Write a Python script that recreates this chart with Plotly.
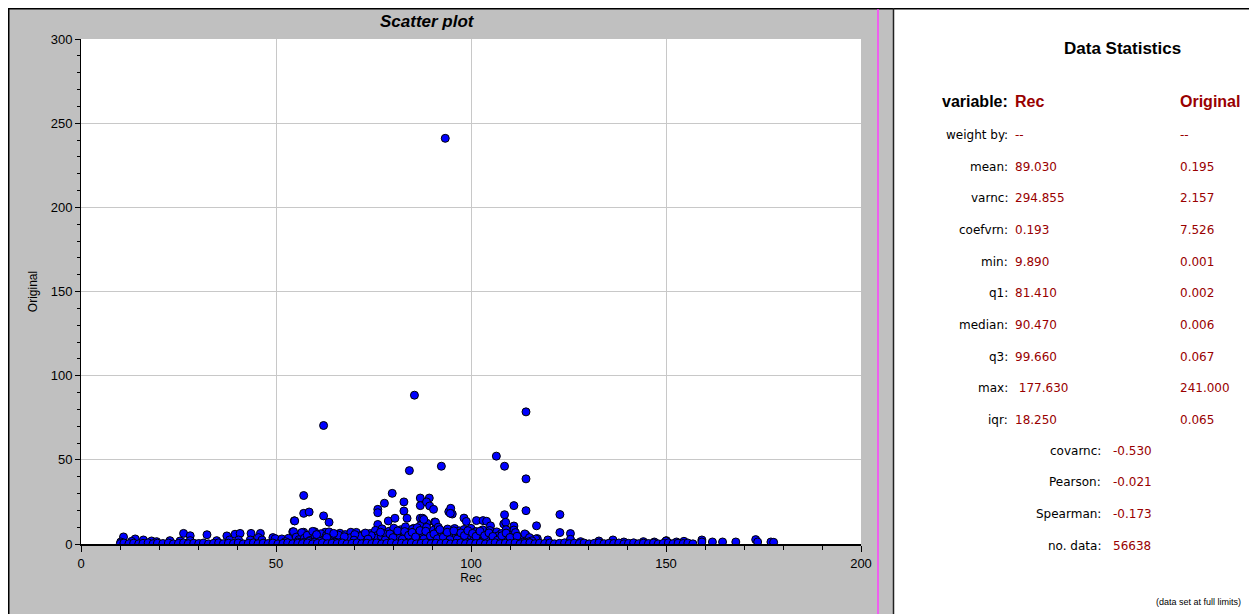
import plotly.graph_objects as go

# ---------------- data ----------------
# outlying / clearly visible points (Rec, Original)
outlier_points = [
    [93.4, 241.0], [85.5, 88.4], [62.2, 70.4], [114.1, 78.5], [106.5, 52.2],
    [108.6, 46.2], [92.4, 46.2], [84.2, 43.6], [114.1, 38.7], [57.1, 28.8],
    [111.0, 22.8], [122.8, 17.5], [114.1, 19.8], [108.6, 17.4], [116.8, 10.8],
    [122.8, 6.8], [125.5, 6.2], [114.1, 5.3], [117.0, 3.2], [119.7, 2.4],
    [57.1, 18.2], [58.5, 19.0], [54.7, 13.8], [62.2, 16.7], [63.6, 12.9],
    [76.1, 20.6], [76.1, 18.6], [77.8, 24.2], [79.8, 30.1], [82.8, 25.0],
    [82.8, 19.6], [83.6, 15.3], [78.8, 13.7], [80.5, 15.3], [76.1, 11.6],
    [87.0, 27.3], [89.3, 27.3], [87.0, 22.8], [88.6, 25.0], [89.4, 22.6],
    [90.4, 20.6], [87.0, 15.3], [87.6, 15.3], [88.7, 12.3], [90.7, 13.1],
    [91.1, 9.9], [94.3, 19.2], [94.8, 21.2], [95.2, 17.8], [98.2, 15.4],
    [98.8, 13.4], [101.4, 13.9], [103.1, 13.9], [104.0, 13.5], [105.0, 10.8],
    [108.4, 11.9], [108.9, 12.9], [111.0, 10.7], [111.0, 8.3], [111.0, 4.8],
    [114.1, 4.5], [103.3, 5.8], [105.9, 5.8], [106.7, 5.8], [101.2, 7.3],
    [90.9, 12.9], [85.3, 9.3], [87.0, 10.9], [87.9, 14.6], [94.7, 18.2],
    [54.3, 7.3], [57.1, 7.0], [59.9, 7.3], [62.6, 7.0], [116.6, 3.0],
    [125.5, 2.8], [128.1, 1.4], [132.8, 1.8], [136.4, 2.4], [139.2, 1.2],
    [144.2, 1.4], [147.0, 1.2], [150.1, 2.0], [152.7, 1.2], [154.6, 1.6],
    [159.2, 2.4], [159.2, 1.2], [161.9, 1.2], [164.5, 1.2], [167.9, 1.2],
    [173.0, 2.6], [173.5, 1.2], [176.9, 1.2], [177.6, 1.0], [150.0, 1.8],
]

# low points on the left side of the cloud
left_points = [
    [10.9, 4.2], [10.2, 1.2], [13.9, 3.0], [13.0, 1.6], [16.0, 2.4],
    [18.1, 1.8], [19.4, 1.4], [22.8, 2.0], [25.4, 1.8], [26.3, 6.3],
    [28.0, 4.9], [28.0, 2.0], [32.3, 5.5], [34.8, 2.0], [37.4, 4.8],
    [38.1, 2.4], [39.5, 5.8], [40.8, 6.3], [40.4, 2.4], [43.6, 6.3],
    [43.4, 2.4], [46.0, 6.3], [45.5, 3.8], [46.4, 2.4], [49.2, 3.8],
    [49.8, 3.2], [51.5, 3.0], [53.2, 3.4], [54.8, 13.7], [52.4, 1.4],
]

# dense band of small values in the middle of the cloud
band_points = [
    [54.5, 7.3], [55.2, 4.1], [55.9, 2.6], [56.6, 6.8], [57.3, 3.5], [58.0, 5.2],
    [58.7, 2.1], [59.4, 7.5], [60.1, 4.4], [60.8, 3.0], [61.5, 6.1], [62.2, 2.4],
    [62.9, 5.0], [63.6, 7.2], [64.3, 3.3], [65.0, 4.8], [65.7, 2.2], [66.4, 6.4],
    [67.1, 3.9], [67.8, 5.6], [68.5, 2.7], [69.2, 7.0], [69.9, 4.3], [70.6, 6.9],
    [71.3, 3.1], [72.0, 5.4], [72.7, 2.5], [73.4, 4.6], [74.1, 6.2], [74.8, 3.4],
    [75.5, 8.1], [76.0, 5.1], [76.6, 2.9], [77.2, 9.0], [77.8, 6.3], [78.4, 3.8],
    [79.0, 7.6], [79.6, 4.5], [80.2, 9.4], [80.8, 2.6], [81.4, 6.7], [82.0, 8.5],
    [82.6, 4.0], [83.2, 10.2], [83.8, 6.0], [84.4, 3.2], [85.0, 8.8], [85.6, 5.5],
    [86.2, 9.7], [86.8, 2.8], [87.4, 7.1], [88.0, 4.9], [88.6, 9.9], [89.2, 6.4],
    [89.8, 3.6], [90.4, 8.2], [91.0, 5.3], [91.6, 10.0], [92.2, 2.7], [92.8, 7.4],
    [93.4, 4.6], [94.0, 8.9], [94.6, 6.1], [95.2, 3.3], [95.8, 9.2], [96.4, 5.8],
    [97.0, 7.8], [97.6, 4.2], [98.2, 8.6], [98.8, 2.9], [99.4, 6.6], [100.0, 9.3],
    [100.6, 4.4], [101.2, 7.3], [101.8, 3.0], [102.4, 6.0], [103.0, 8.4], [103.6, 3.7],
    [104.2, 5.6], [104.8, 8.0], [105.4, 2.6], [106.0, 5.8], [106.6, 7.2], [107.2, 3.4],
    [107.8, 6.2], [108.4, 4.1], [109.0, 8.5], [109.6, 2.8], [110.2, 5.0], [110.8, 3.6],
    [111.4, 6.8], [112.0, 2.5], [112.6, 4.2], [113.2, 3.0], [113.8, 6.0], [114.4, 2.2],
    [115.0, 3.8], [115.6, 1.9],
    [55.5, 1.2], [57.0, 0.9], [58.4, 1.5], [59.8, 1.1], [61.2, 1.6], [62.6, 0.8],
    [64.0, 1.4], [65.4, 1.0], [66.8, 1.7], [68.2, 1.2], [69.6, 0.9], [71.0, 1.5],
    [72.4, 1.1], [73.8, 1.8], [75.2, 1.3], [76.3, 1.9], [77.5, 1.0], [78.7, 2.2],
    [79.9, 1.4], [81.1, 2.0], [82.3, 1.1], [83.5, 2.4], [84.7, 1.6], [85.9, 2.1],
    [87.1, 1.2], [88.3, 2.5], [89.5, 1.5], [90.7, 2.2], [91.9, 1.0], [93.1, 2.4],
    [94.3, 1.3], [95.5, 2.0], [96.7, 1.1], [97.9, 2.3], [99.1, 1.4], [100.3, 2.0],
    [101.5, 1.0], [102.7, 1.9], [103.9, 1.2], [105.1, 1.7], [106.3, 0.9], [107.5, 1.6],
    [108.7, 1.1], [109.9, 1.5], [111.1, 0.8], [112.3, 1.3], [113.5, 0.9], [114.7, 1.2],
    [75.9, 3.6], [77.0, 4.6], [78.1, 5.6], [79.3, 3.0], [80.5, 5.0], [81.7, 3.5],
    [82.9, 5.9], [84.1, 4.5], [85.3, 3.1], [86.5, 6.2], [87.7, 3.9], [88.9, 5.3],
    [90.1, 4.2], [91.3, 6.9], [92.5, 5.1], [93.7, 3.5], [94.9, 6.5], [96.1, 4.0],
    [97.3, 5.5], [98.5, 3.9], [99.7, 5.2], [100.9, 3.3], [102.1, 5.1], [103.3, 2.5],
    [104.5, 4.0], [105.7, 3.6], [106.9, 4.8], [108.1, 2.6], [109.3, 4.4], [110.5, 2.1],
    [60.4, 5.6], [63.0, 3.9], [66.0, 5.3], [68.9, 3.6], [71.7, 4.5], [74.4, 5.0],
    [76.8, 7.0], [78.0, 2.4], [79.2, 6.0], [80.0, 3.8], [81.2, 7.8], [82.4, 2.9],
    [83.0, 7.4], [84.0, 5.2], [84.9, 6.9], [85.8, 4.2], [86.9, 8.0], [87.9, 3.0],
    [88.4, 7.6], [89.6, 4.8], [90.5, 6.0], [91.4, 3.1], [92.0, 8.6], [92.9, 4.0],
    [93.9, 7.0], [94.6, 2.6], [95.6, 7.8], [96.5, 3.0], [97.4, 6.6], [98.3, 5.0],
    [99.2, 7.9], [100.4, 6.3], [101.3, 4.6], [102.3, 7.6], [103.5, 5.0], [104.6, 6.6],
    [105.6, 4.5], [106.8, 2.3], [107.9, 4.9], [109.0, 6.5], [110.0, 3.9], [111.8, 4.6],
    [64.8, 6.3], [67.5, 4.3], [70.2, 5.6], [72.9, 6.5], [73.6, 2.9], [70.0, 2.3],
]

# points lying on the baseline (Original close to 0)
baseline_x = [
    10.1, 11.0, 12.3, 13.5, 14.8, 15.9, 17.2, 18.5, 19.6, 21.0, 22.4, 23.7, 25.0,
    26.3, 27.5, 28.9, 30.2, 31.4, 32.7, 34.0, 35.3, 36.5, 37.8, 39.1, 40.3, 41.6,
    42.9, 44.2, 45.4, 46.7, 48.0, 49.2, 50.5, 51.8, 53.0, 54.3, 55.6, 56.8, 58.1,
    59.4, 60.6, 61.9, 63.2, 64.4, 65.7, 67.0, 68.2, 69.5, 70.8, 72.0, 73.3, 74.6,
    75.8, 77.1, 78.4, 79.6, 80.9, 82.2, 83.4, 84.7, 86.0, 87.2, 88.5, 89.8, 91.0,
    92.3, 93.6, 94.8, 96.1, 97.4, 98.6, 99.9, 101.2, 102.4, 103.7, 105.0, 106.2,
    107.5, 108.8, 110.0, 111.3, 112.6, 113.8, 115.1, 116.4, 117.6, 118.9, 120.2,
    121.4, 122.7, 124.0, 125.2, 126.5, 127.8, 129.0, 130.3, 131.6, 132.8, 134.1,
    135.4, 136.6, 137.9, 139.2, 140.4, 141.7, 143.0, 144.2, 145.5, 146.8, 148.0,
    149.3, 150.6, 151.8, 153.1, 154.4, 155.6, 156.9,
]
baseline_y = [
    0.3, 0.6, 0.2, 0.5, 0.1, 0.4, 0.7, 0.2, 0.5, 0.3, 0.6, 0.1, 0.4,
    0.7, 0.2, 0.5, 0.3, 0.6, 0.1, 0.4, 0.7, 0.2, 0.5, 0.3, 0.6, 0.1,
    0.4, 0.7, 0.2, 0.5, 0.3, 0.6, 0.1, 0.4, 0.7, 0.2, 0.5, 0.3, 0.6,
    0.1, 0.4, 0.7, 0.2, 0.5, 0.3, 0.6, 0.1, 0.4, 0.7, 0.2, 0.5, 0.3,
    0.6, 0.1, 0.4, 0.7, 0.2, 0.5, 0.3, 0.6, 0.1, 0.4, 0.7, 0.2, 0.5,
    0.3, 0.6, 0.1, 0.4, 0.7, 0.2, 0.5, 0.3, 0.6, 0.1, 0.4, 0.7,
    0.2, 0.5, 0.3, 0.6, 0.1, 0.4, 0.7, 0.2, 0.5, 0.3, 0.6,
    0.1, 0.4, 0.7, 0.2, 0.5, 0.3, 0.6, 0.1, 0.4, 0.7, 0.2,
    0.5, 0.3, 0.6, 0.1, 0.4, 0.7, 0.2, 0.5, 0.3, 0.6, 0.1,
    0.4, 0.7, 0.2, 0.5, 0.3, 0.6, 0.1,
]

# statistics panel
stat_labels = ["weight by:", "mean:", "varnc:", "coefvrn:", "min:", "q1:",
               "median:", "q3:", "max:", "iqr:"]
rec_stats = ["--", "89.030", "294.855", "0.193", "9.890", "81.410",
             "90.470", "99.660", " 177.630", "18.250"]
orig_stats = ["--", "0.195", "2.157", "7.526", "0.001", "0.002",
              "0.006", "0.067", "241.000", "0.065"]
pair_labels = ["covarnc:", "Pearson:", "Spearman:", "no. data:"]
pair_stats = ["-0.530", "-0.021", "-0.173", "56638"]

x_ticks = [0, 50, 100, 150, 200]
y_ticks = [0, 50, 100, 150, 200, 250, 300]

# ---------------- figure ----------------
xs = [p[0] for p in outlier_points + left_points + band_points] + baseline_x
ys = [p[1] for p in outlier_points + left_points + band_points] + baseline_y

# page offset: the figure sits at (8, 8) in the page (body margin)
OFF = 8
W, H = 1257 - OFF, 614 - OFF
L, R, T, B = 81 - OFF, 396, 39 - OFF, 70
PW, PH = W - L - R, H - T - B


def px(xp):
    """page pixel x -> paper coordinate"""
    return (xp - OFF - L) / PW


def py(yp):
    """page pixel y -> paper coordinate"""
    return (H - B - (yp - OFF)) / PH


fig = go.Figure()
fig.add_trace(go.Scatter(
    x=xs, y=ys, mode="markers",
    marker=dict(color="#0000ff", size=8, line=dict(color="black", width=1)),
    showlegend=False, hoverinfo="x+y",
))

GRAY = "#c0c0c0"
shapes = [
    # statistics panel (white)
    dict(type="rect", xref="paper", yref="paper", x0=px(894), x1=px(1257 + 5), y0=py(8), y1=py(614 + 5),
         fillcolor="white", line=dict(width=0), layer="below"),
    # borders
    dict(type="line", xref="paper", yref="paper", x0=px(8), x1=px(1257), y0=py(8.5), y1=py(8.5),
         line=dict(color="black", width=2)),
    dict(type="line", xref="paper", yref="paper", x0=px(8.5), x1=px(8.5), y0=py(8), y1=py(614),
         line=dict(color="black", width=2)),
    dict(type="line", xref="paper", yref="paper", x0=px(893.5), x1=px(893.5), y0=py(8), y1=py(614),
         line=dict(color="#202020", width=1.5)),
    dict(type="line", xref="paper", yref="paper", x0=px(878), x1=px(878), y0=py(9), y1=py(614),
         line=dict(color="#ff40ff", width=1.5)),
]

ann = []
ann.append(dict(text="<b><i>Scatter plot</i></b>", x=px(427), y=py(22), xref="paper", yref="paper",
                showarrow=False, xanchor="center", yanchor="middle",
                font=dict(family="Liberation Sans, Arial", size=17, color="black")))
ann.append(dict(text="<b>Data Statistics</b>", x=px(1122), y=py(48), xref="paper", yref="paper",
                showarrow=False, xanchor="center", yanchor="middle",
                font=dict(family="Liberation Sans, Arial", size=17, color="black")))
ann.append(dict(text="<b>variable:</b>", x=px(1010), y=py(101), xref="paper", yref="paper",
                showarrow=False, xanchor="right", yanchor="middle",
                font=dict(family="Liberation Sans, Arial", size=16, color="black")))
ann.append(dict(text="<b>Rec</b>", x=px(1013), y=py(101), xref="paper", yref="paper",
                showarrow=False, xanchor="left", yanchor="middle",
                font=dict(family="Liberation Sans, Arial", size=16, color="#990000")))
ann.append(dict(text="<b>Original</b>", x=px(1178), y=py(101), xref="paper", yref="paper",
                showarrow=False, xanchor="left", yanchor="middle",
                font=dict(family="Liberation Sans, Arial", size=16, color="#990000")))

row_y = [135, 167, 198, 230, 262, 293, 325, 356.5, 388, 420]
lab_font = dict(family="DejaVu Sans", size=12, color="black")
val_font = dict(family="DejaVu Sans", size=12, color="#990000")
for lab, a, b, yy in zip(stat_labels, rec_stats, orig_stats, row_y):
    ann.append(dict(text=lab, x=px(1010), y=py(yy), xref="paper", yref="paper", showarrow=False,
                    xanchor="right", yanchor="middle", font=lab_font))
    ann.append(dict(text=a, x=px(1013), y=py(yy), xref="paper", yref="paper", showarrow=False,
                    xanchor="left", yanchor="middle", font=val_font))
    ann.append(dict(text=b, x=px(1178), y=py(yy), xref="paper", yref="paper", showarrow=False,
                    xanchor="left", yanchor="middle", font=val_font))

pair_y = [450.5, 482, 514, 546]
for lab, v, yy in zip(pair_labels, pair_stats, pair_y):
    ann.append(dict(text=lab, x=px(1103), y=py(yy), xref="paper", yref="paper", showarrow=False,
                    xanchor="right", yanchor="middle", font=lab_font))
    ann.append(dict(text=v, x=px(1111), y=py(yy), xref="paper", yref="paper", showarrow=False,
                    xanchor="left", yanchor="middle", font=val_font))

ann.append(dict(text="(data set at full limits)", x=px(1243), y=py(602), xref="paper", yref="paper",
                showarrow=False, xanchor="right", yanchor="middle",
                font=dict(family="Liberation Sans Narrow, Liberation Sans, Arial", size=9, color="black")))

fig.update_layout(
    width=W, height=H,
    margin=dict(l=L, r=R, t=T, b=B, pad=0),
    paper_bgcolor=GRAY, plot_bgcolor="white",
    shapes=shapes, annotations=ann,
    font=dict(family="Liberation Sans, Arial", size=13, color="black"),
    xaxis=dict(
        range=[0, 200], tickvals=x_ticks, ticktext=[str(v) for v in x_ticks],
        showgrid=True, gridcolor="#c8c8c8", gridwidth=1,
        showline=True, linecolor="black", linewidth=2, zeroline=False,
        ticks="outside", ticklen=6, tickwidth=1, tickcolor="black",
        minor=dict(dtick=10, ticks="outside", ticklen=4, tickcolor="black", showgrid=False),
        tickfont=dict(size=13),
        title=dict(text="Rec", font=dict(size=12), standoff=4),
        fixedrange=True,
    ),
    yaxis=dict(
        range=[0, 300], tickvals=y_ticks, ticktext=[str(v) for v in y_ticks],
        showgrid=True, gridcolor="#c8c8c8", gridwidth=1,
        showline=True, linecolor="black", linewidth=1, zeroline=False,
        ticks="outside", ticklen=5, tickwidth=1, tickcolor="black",
        minor=dict(dtick=10, ticks="outside", ticklen=3, tickcolor="black", showgrid=False),
        tickfont=dict(size=13),
        title=dict(text="Original", font=dict(size=12), standoff=10),
        fixedrange=True,
    ),
)

fig.write_html("out.html", config={"displayModeBar": False})
